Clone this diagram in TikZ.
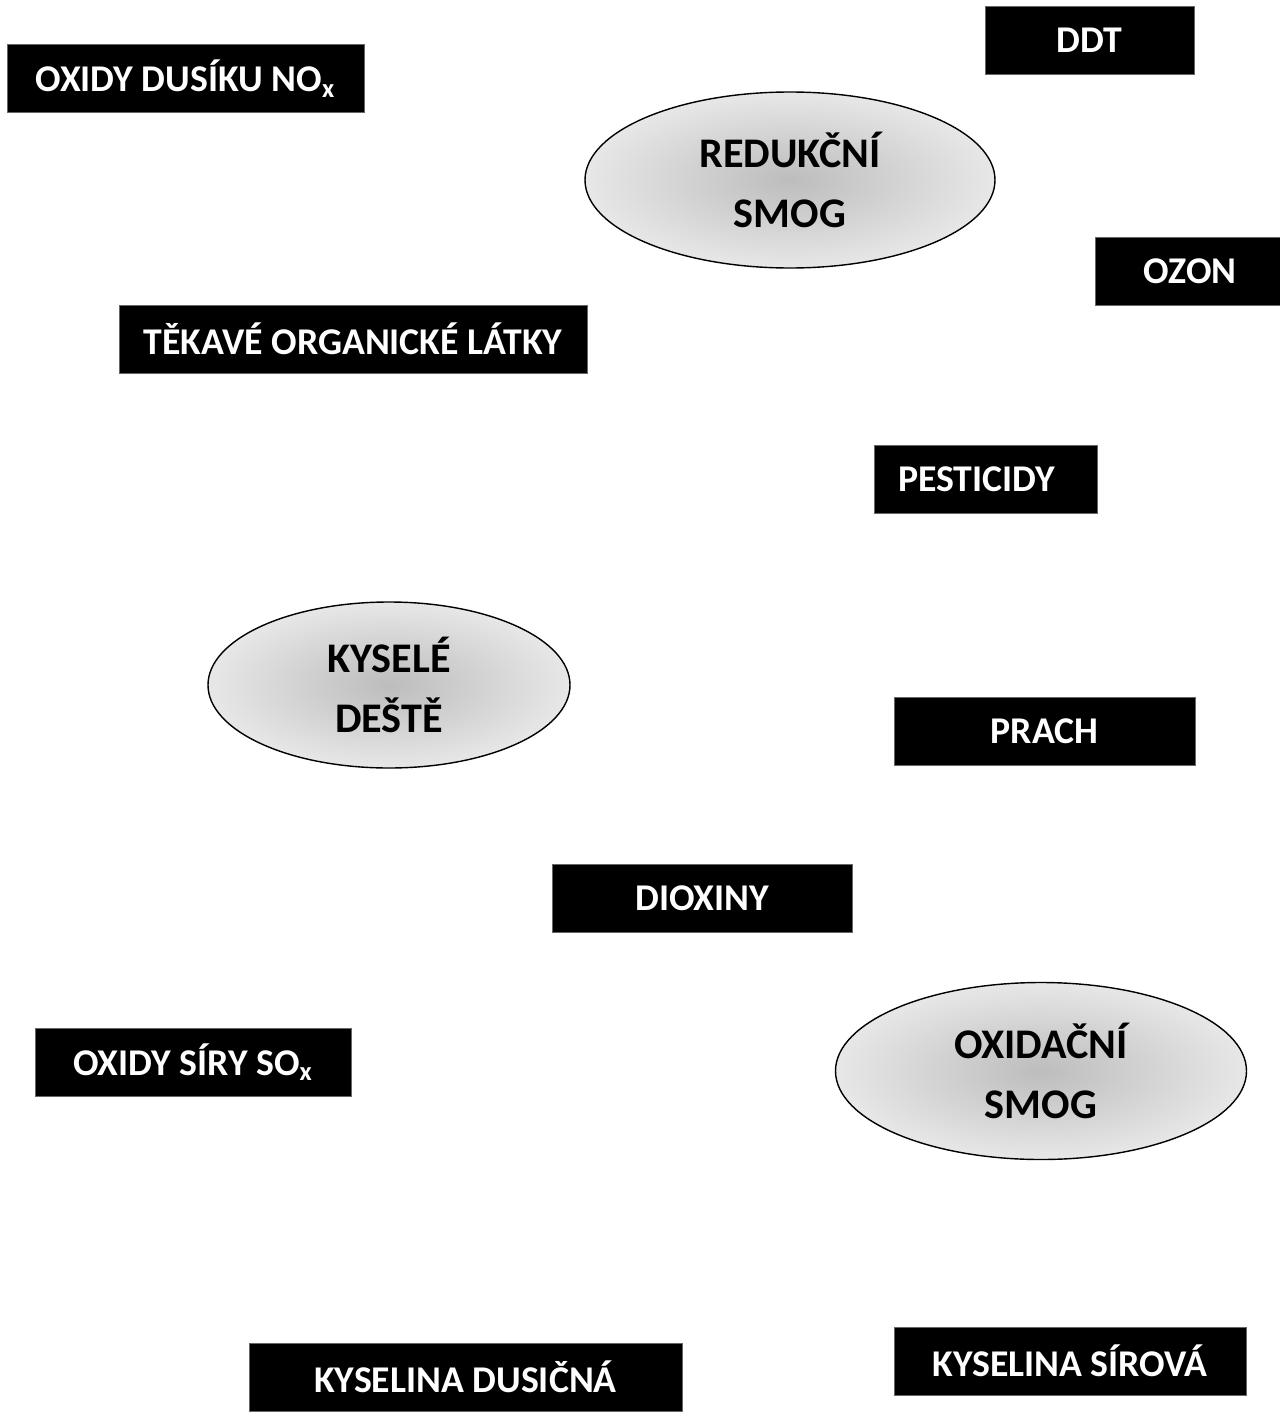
\documentclass[tikz,border=0pt]{standalone}
\usepackage{fontspec}
\setmainfont{Carlito}
\usetikzlibrary{positioning,shapes.geometric}
\pgfdeclareradialshading{smogshade}{\pgfpoint{0bp}{0bp}}{%
	color(0bp)=(black!26); color(12bp)=(black!18); color(30bp)=(black!6); color(50bp)=(black!2)}
\tikzset{
	pollutant box/.style={fill=black,draw=black!60,thin,text=white,inner sep=0pt,
		minimum height=1.36cm,font=\fontsize{21.5}{25}\selectfont\bfseries},
	smog/.style={ellipse,draw=black,thick,inner sep=0pt,align=center,
		shading=smogshade,
		font=\fontsize{24}{34.6}\selectfont\bfseries}
}
\newcommand{\pollutant}[4]{
	\node [pollutant box,minimum width=#3*0.02cm] (#1) at (#2) {#4}
}
\newcommand{\phenomenon}[5]{
	\node [smog,minimum width=#3*0.02cm,minimum height=#4*0.02cm] (#1) at (#2) {#5}
}

\begin{document}
\begin{tikzpicture}[x=0.02cm,y=-0.02cm]
	\useasboundingbox (0,0) rectangle (1280,1413);
	\clip (0,0) rectangle (1280,1413);

	% Phenomena
	\phenomenon {reduk}{790,180}{410}{176}{REDUKČNÍ\\SMOG};
	\phenomenon {kysele}{389,685}{362}{166}{KYSELÉ\\DEŠTĚ};
	\phenomenon {oxid}{1041,1071}{411}{177}{OXIDAČNÍ\\SMOG};

	% Pollutants
	\pollutant {nox}{185.5,78.5}{357}{OXIDY DUSÍKU NO\textsubscript{x}};
	\pollutant {ddt}{1089.5,40}{209}{DDT};
	\pollutant {ozon}{1190,271}{190}{OZON};
	\pollutant {tekave}{353,339}{468}{TĚKAVÉ ORGANICKÉ LÁTKY};
	\pollutant {pest}{985.5,479.5}{223}{PESTICIDY\kern0.36cm};
	\pollutant {prach}{1044.5,731}{301}{PRACH};
	\pollutant {diox}{702,898.5}{300}{DIOXINY};
	\pollutant {sox}{193,1062}{316}{OXIDY SÍRY SO\textsubscript{x}};
	\pollutant {hno}{465.5,1377}{433}{KYSELINA DUSIČNÁ};
	\pollutant {hso}{1070,1361}{352}{KYSELINA SÍROVÁ};

\end{tikzpicture}
\end{document}
